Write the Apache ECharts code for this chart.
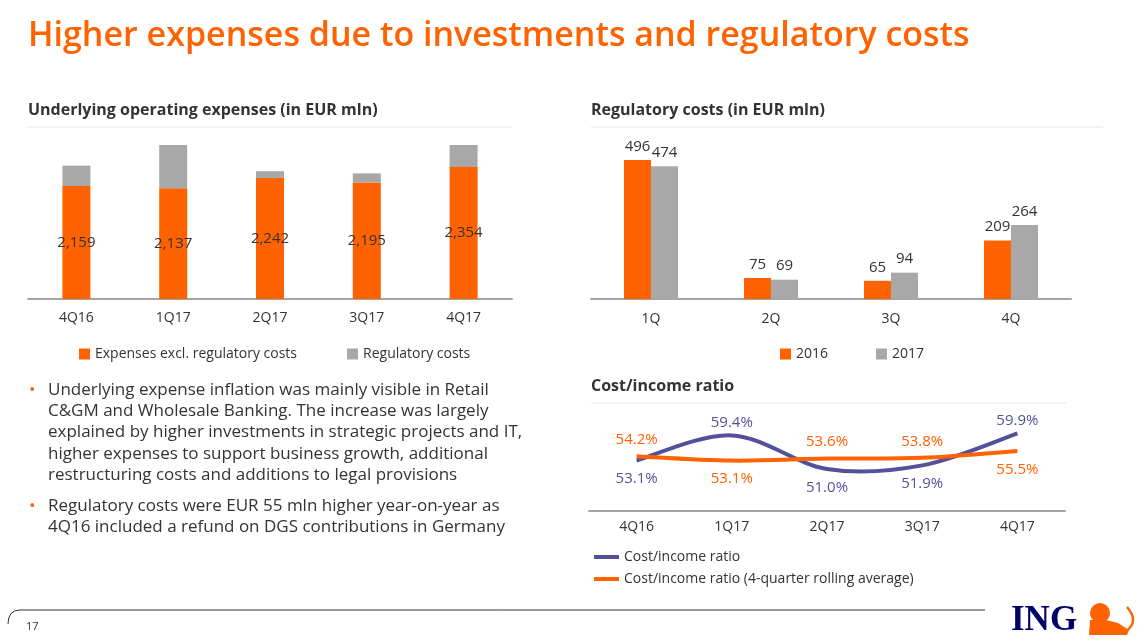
<!DOCTYPE html>
<html>
<head>
<meta charset="utf-8">
<title>Higher expenses due to investments and regulatory costs</title>
<script src="https://cdn.jsdelivr.net/npm/echarts@6/dist/echarts.min.js"></script>
<style>
  html, body { margin: 0; padding: 0; background: #fff; }
  #slide { width: 1143px; height: 643px; }
</style>
</head>
<body>
<div id="slide"></div>
<script>
// operating expenses, EUR mln
var quarters = ['4Q16', '1Q17', '2Q17', '3Q17', '4Q17'];
var expensesExclReg = [2159, 2137, 2242, 2195, 2354];
var regulatoryCosts = [209, 474, 69, 94, 264];

// regulatory costs per quarter, EUR mln
var regQuarters = ['1Q', '2Q', '3Q', '4Q'];
var reg2016 = [496, 75, 65, 209];
var reg2017 = [474, 69, 94, 264];

// cost/income ratio, %
var cirQuarters = ['4Q16', '1Q17', '2Q17', '3Q17', '4Q17'];
var cirQuarterly = [53.1, 59.4, 51.0, 51.9, 59.9];
var cirRolling = [54.2, 53.1, 53.6, 53.8, 55.5];

var ORANGE = '#FF6200';
var GREY = '#A8A8A8';
var PURPLE = '#525199';
var TEXT = '#333333';
var FONT = '"Open Sans", "Noto Sans", sans-serif';

// which side of the line each ratio label sits
var cirQuarterlySide = ['bottom', 'top', 'bottom', 'bottom', 'top'];
var cirRollingSide = ['top', 'bottom', 'top', 'top', 'bottom'];

function labelled(values, sides, topGap, bottomGap) {
  return values.map(function (v, i) {
    return {
      value: v,
      label: { position: sides[i], distance: sides[i] === 'top' ? topGap : bottomGap }
    };
  });
}

function txt(x, y, s, size, color, weight, lh) {
  return {
    type: 'text', x: x, y: y,
    style: { text: s, fill: color, fontSize: size, fontWeight: weight || 'normal',
             fontFamily: FONT, lineHeight: lh || size * 1.3 }
  };
}

// office-style smoothed curve through the points, drawn once per series
function smoothCurve(values, color) {
  return function (params, api) {
    if (params.dataIndex !== 0) return null;
    var pts = values.map(function (v, i) { return api.coord([i, v]); });
    var d = 'M' + pts[0][0] + ',' + pts[0][1];
    for (var i = 0; i < pts.length - 1; i++) {
      var p0 = pts[i - 1] || pts[i], p1 = pts[i], p2 = pts[i + 1], p3 = pts[i + 2] || pts[i + 1];
      var c1x = p1[0] + (p2[0] - p0[0]) / 6, c1y = p1[1] + (p2[1] - p0[1]) / 6;
      var c2x = p2[0] - (p3[0] - p1[0]) / 6, c2y = p2[1] - (p3[1] - p1[1]) / 6;
      d += ' C' + c1x + ',' + c1y + ' ' + c2x + ',' + c2y + ' ' + p2[0] + ',' + p2[1];
    }
    return { type: 'path', shape: { pathData: d },
             style: { fill: 'none', stroke: color, lineWidth: 4 } };
  };
}

var chart = echarts.init(document.getElementById('slide'));

var option = {
  backgroundColor: '#fff',
  textStyle: { fontFamily: FONT },
  animation: false,
  graphic: [
    txt(28, 15, 'Higher expenses due to investments and regulatory costs', 34, ORANGE, 600, 42),
    txt(28, 99, 'Underlying operating expenses (in EUR mln)', 16, TEXT, 'bold', 22),
    { type: 'line', shape: { x1: 28, y1: 127, x2: 512, y2: 127 }, style: { stroke: '#E6E6E6', lineWidth: 1 } },
    txt(591, 99, 'Regulatory costs (in EUR mln)', 16, TEXT, 'bold', 22),
    { type: 'line', shape: { x1: 591, y1: 127, x2: 1103, y2: 127 }, style: { stroke: '#E6E6E6', lineWidth: 1 } },
    txt(591, 375, 'Cost/income ratio', 16, TEXT, 'bold', 22),
    { type: 'line', shape: { x1: 591, y1: 403, x2: 1066, y2: 403 }, style: { stroke: '#E6E6E6', lineWidth: 1 } },

    // bullets
    txt(29, 379, '•', 17, ORANGE, 'normal', 21.4),
    txt(48, 379, 'Underlying expense inflation was mainly visible in Retail\nC&GM and Wholesale Banking. The increase was largely\nexplained by higher investments in strategic projects and IT,\nhigher expenses to support business growth, additional\nrestructuring costs and additions to legal provisions', 17, TEXT, 'normal', 21.4),
    txt(29, 495, '•', 17, ORANGE, 'normal', 21.6),
    txt(48, 495, 'Regulatory costs were EUR 55 mln higher year-on-year as\n4Q16 included a refund on DGS contributions in Germany', 17, TEXT, 'normal', 21.6),

    // footer
    { type: 'bezierCurve', shape: { x1: 8, y1: 624, cpx1: 8, cpy1: 610, x2: 20, y2: 610 },
      style: { fill: null, stroke: '#333', lineWidth: 1 } },
    { type: 'line', shape: { x1: 20, y1: 610, x2: 985, y2: 610 }, style: { stroke: '#333', lineWidth: 1 } },
    txt(26, 620, '17', 11, TEXT, 'normal', 14),
    { type: 'text', x: 1011, y: 603,
      style: { text: 'ING', fill: '#000066', fontSize: 35, fontWeight: 'bold',
               fontFamily: '"Liberation Serif", "DejaVu Serif", serif' } },
    { type: 'circle', shape: { cx: 1100, cy: 613, r: 10 }, style: { fill: ORANGE } },
    { type: 'polygon', shape: { points: [[1090, 620], [1089, 635], [1127, 635], [1129, 630], [1118, 623], [1106, 620]] },
      style: { fill: ORANGE } },
    { type: 'bezierCurve', shape: { x1: 1125, y1: 632, cpx1: 1140, cpy1: 622, x2: 1127, y2: 607 },
      style: { fill: null, stroke: ORANGE, lineWidth: 2.5 } }
  ],
  legend: [
    { left: 74, top: 342, itemWidth: 11, itemHeight: 11, itemGap: 50, icon: 'rect',
      textStyle: { color: TEXT, fontSize: 14, fontFamily: FONT },
      data: ['Expenses excl. regulatory costs', 'Regulatory costs'] },
    { left: 775, top: 342, itemWidth: 11, itemHeight: 11, itemGap: 48, icon: 'rect',
      textStyle: { color: TEXT, fontSize: 14, fontFamily: FONT },
      data: ['2016', '2017'] },
    { left: 589, top: 545, orient: 'vertical', itemWidth: 25, itemHeight: 4, itemGap: 8, icon: 'rect',
      textStyle: { color: TEXT, fontSize: 14, fontFamily: FONT },
      data: ['Cost/income ratio', 'Cost/income ratio (4-quarter rolling average)'] }
  ],
  grid: [
    { left: 28, right: 631, top: 145, bottom: 344 },
    { left: 591, right: 72, top: 159, bottom: 344 },
    { left: 589, right: 78, top: 431, bottom: 132 }
  ],
  xAxis: [
    { type: 'category', gridIndex: 0, data: quarters,
      axisLine: { lineStyle: { color: '#A6A6A6', width: 2 } }, axisTick: { show: false },
      axisLabel: { color: TEXT, fontSize: 14, margin: 12 } },
    { type: 'category', gridIndex: 1, data: regQuarters,
      axisLine: { lineStyle: { color: '#A6A6A6', width: 2 } }, axisTick: { show: false },
      axisLabel: { color: TEXT, fontSize: 14, margin: 13 } },
    { type: 'category', gridIndex: 2, data: cirQuarters,
      axisLine: { lineStyle: { color: '#A6A6A6', width: 2 } }, axisTick: { show: false },
      axisLabel: { color: TEXT, fontSize: 14, margin: 9 } }
  ],
  yAxis: [
    { type: 'value', gridIndex: 0, min: 1000, max: 2580, show: false },
    { type: 'value', gridIndex: 1, min: 0, max: 500, show: false },
    { type: 'value', gridIndex: 2, min: 40.5, max: 60.5, show: false }
  ],
  series: [
    { name: 'Expenses excl. regulatory costs', type: 'bar', stack: 'opex', xAxisIndex: 0, yAxisIndex: 0,
      barWidth: 28, data: expensesExclReg, itemStyle: { color: ORANGE },
      label: { show: true, position: 'inside', color: TEXT, fontSize: 15,
               formatter: function (p) { return p.value.toLocaleString('en-US'); } } },
    { name: 'Regulatory costs', type: 'bar', stack: 'opex', xAxisIndex: 0, yAxisIndex: 0,
      barWidth: 28, data: regulatoryCosts, itemStyle: { color: GREY }, clip: true },

    { name: '2016', type: 'bar', xAxisIndex: 1, yAxisIndex: 1, barWidth: 27, barGap: '0%',
      data: reg2016, itemStyle: { color: ORANGE },
      label: { show: true, position: 'top', distance: 6, color: TEXT, fontSize: 15 } },
    { name: '2017', type: 'bar', xAxisIndex: 1, yAxisIndex: 1, barWidth: 27, barGap: '0%',
      data: reg2017, itemStyle: { color: GREY },
      label: { show: true, position: 'top', distance: 6, color: TEXT, fontSize: 15 } },

    // curves
    { type: 'custom', xAxisIndex: 2, yAxisIndex: 2, silent: true, z: 2,
      data: cirQuarterly.map(function (v, i) { return [i, v]; }),
      renderItem: smoothCurve(cirQuarterly, PURPLE) },
    { type: 'custom', xAxisIndex: 2, yAxisIndex: 2, silent: true, z: 3,
      data: cirRolling.map(function (v, i) { return [i, v]; }),
      renderItem: smoothCurve(cirRolling, ORANGE) },

    // labels + legend entries for the curves
    { name: 'Cost/income ratio', type: 'line', xAxisIndex: 2, yAxisIndex: 2, z: 4,
      showSymbol: true, symbol: 'circle', symbolSize: 0,
      data: labelled(cirQuarterly, cirQuarterlySide, 5, 11),
      lineStyle: { color: PURPLE, width: 4, opacity: 0 }, itemStyle: { color: PURPLE },
      label: { show: true, color: PURPLE, fontSize: 15, formatter: function (p) { return p.value.toFixed(1) + '%'; } } },
    { name: 'Cost/income ratio (4-quarter rolling average)', type: 'line', xAxisIndex: 2, yAxisIndex: 2, z: 4,
      showSymbol: true, symbol: 'circle', symbolSize: 0,
      data: labelled(cirRolling, cirRollingSide, 9, 11),
      lineStyle: { color: ORANGE, width: 4, opacity: 0 }, itemStyle: { color: ORANGE },
      label: { show: true, color: ORANGE, fontSize: 15, formatter: function (p) { return p.value.toFixed(1) + '%'; } } }
  ]
};

chart.setOption(option);
</script>
</body>
</html>
